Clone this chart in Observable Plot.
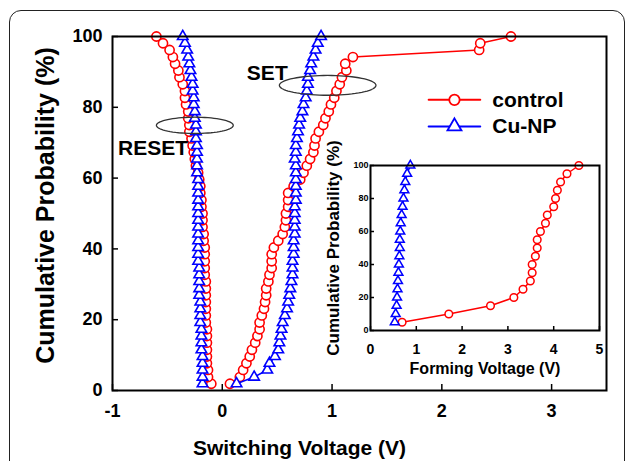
<!DOCTYPE html>
<html>
<head>
<meta charset="utf-8">
<script src="https://cdn.jsdelivr.net/npm/d3@7"></script>
<script src="https://cdn.jsdelivr.net/npm/@observablehq/plot@0.6"></script>
<style>
  html, body { margin: 0; padding: 0; background: white; }
  #wrap { position: relative; width: 629px; height: 461px; overflow: hidden; background: white; }
  #border { position: absolute; left: 9px; top: 10px; width: 616px; height: 480px; border: 1.5px solid #222; border-radius: 12px; box-sizing: border-box; }
  #main { position: absolute; left: 0; top: 0; }
  #inset { position: absolute; left: 320px; top: 150px; }
</style>
</head>
<body>
<div id="wrap">
  <div id="border"></div>
  <div id="main"></div>
  <div id="inset"></div>
</div>
<script>
// ---------- Data ----------
// Cumulative probability levels (%) shared by the switching-voltage series
const switchProb = [1.9, 3.8, 5.8, 7.7, 9.6, 11.5, 13.5, 15.4, 17.3, 19.2,
  21.2, 23.1, 25.0, 26.9, 28.8, 30.8, 32.7, 34.6, 36.5, 38.5,
  40.4, 42.3, 44.2, 46.2, 48.1, 50.0, 51.9, 53.8, 55.8, 57.7,
  59.6, 61.5, 63.5, 65.4, 67.3, 69.2, 71.2, 73.1, 75.0, 76.9,
  78.8, 80.8, 82.7, 84.6, 86.5, 88.5, 90.4, 92.3, 94.2, 96.2, 98.1, 100];

const controlReset = [-0.10, -0.13, -0.13, -0.14, -0.14, -0.14, -0.14, -0.14, -0.14, -0.15,
  -0.15, -0.15, -0.15, -0.15, -0.15, -0.15, -0.16, -0.16, -0.16, -0.16,
  -0.16, -0.17, -0.17, -0.18, -0.18, -0.18, -0.19, -0.19, -0.20, -0.20,
  -0.21, -0.22, -0.24, -0.25, -0.26, -0.27, -0.28, -0.30, -0.30, -0.31,
  -0.31, -0.33, -0.34, -0.34, -0.36, -0.39, -0.40, -0.43, -0.45, -0.48, -0.54, -0.60];

const controlSet = [0.07, 0.16, 0.19, 0.22, 0.25, 0.27, 0.30, 0.32, 0.34, 0.34,
  0.36, 0.38, 0.39, 0.40, 0.40, 0.42, 0.43, 0.45, 0.45, 0.45,
  0.47, 0.51, 0.55, 0.57, 0.58, 0.58, 0.60, 0.60, 0.60, 0.65,
  0.71, 0.74, 0.77, 0.80, 0.83, 0.84, 0.85, 0.88, 0.92, 0.94,
  0.97, 0.99, 1.02, 1.04, 1.07, 1.09, 1.13, 1.12, 1.19, 2.34, 2.35, 2.63];

const cuReset = [-0.18, -0.18, -0.18, -0.18, -0.18, -0.19, -0.19, -0.19, -0.19, -0.20,
  -0.20, -0.20, -0.20, -0.21, -0.21, -0.21, -0.21, -0.21, -0.22, -0.22,
  -0.22, -0.22, -0.22, -0.22, -0.22, -0.22, -0.22, -0.22, -0.22, -0.22,
  -0.22, -0.23, -0.23, -0.23, -0.23, -0.23, -0.24, -0.24, -0.24, -0.25,
  -0.25, -0.26, -0.26, -0.27, -0.27, -0.28, -0.29, -0.30, -0.31, -0.32, -0.34, -0.36];

const cuSet = [0.13, 0.29, 0.41, 0.43, 0.48, 0.51, 0.52, 0.53, 0.54, 0.55,
  0.57, 0.59, 0.60, 0.61, 0.62, 0.63, 0.64, 0.64, 0.64, 0.65,
  0.65, 0.65, 0.66, 0.66, 0.66, 0.66, 0.66, 0.67, 0.67, 0.67,
  0.67, 0.67, 0.67, 0.66, 0.67, 0.67, 0.68, 0.69, 0.70, 0.71,
  0.73, 0.74, 0.76, 0.77, 0.78, 0.78, 0.80, 0.81, 0.83, 0.85, 0.87, 0.90];

// Inset: forming voltage
const formProb = [5, 10, 15, 20, 25, 30, 35, 40, 45, 50, 55, 60, 65, 70, 75, 80, 85, 90, 95, 100];
const controlForming = [0.69, 1.71, 2.62, 3.13, 3.33, 3.49, 3.53, 3.53, 3.60, 3.64,
  3.64, 3.71, 3.82, 3.86, 4.00, 4.04, 4.08, 4.15, 4.29, 4.55];
const cuForming = [0.53, 0.55, 0.57, 0.58, 0.59, 0.60, 0.61, 0.62, 0.63, 0.64,
  0.64, 0.65, 0.66, 0.68, 0.70, 0.72, 0.74, 0.76, 0.80, 0.87];

// Tick labels
const mainXTicks = [-1, 0, 1, 2, 3];
const mainYTicks = [0, 20, 40, 60, 80, 100];
const insetXTicks = [0, 1, 2, 3, 4, 5];
const insetYTicks = [0, 20, 40, 60, 80, 100];

// Series & annotations
const seriesNames = ["control", "Cu-NP"];
const seriesColors = ["#ff0000", "#0000ff"];
const seriesSymbols = ["circle", "triangle"];
const annotationTexts = [{label: "SET", x: 0.41, y: 89.6}, {label: "RESET", x: -0.63, y: 68.4}];
const annotationEllipses = [{cx: 0.96, cy: 86.2, rx: 0.44, ry: 2.8}, {cx: -0.25, cy: 74.9, rx: 0.35, ry: 2.3}];

// ---------- Build tables ----------
const zip = (xs, ps) => xs.map((x, i) => ({x, y: ps[i]}));
const cReset = zip(controlReset, switchProb), cSet = zip(controlSet, switchProb);
const nReset = zip(cuReset, switchProb), nSet = zip(cuSet, switchProb);
const cForm = zip(controlForming, formProb), nForm = zip(cuForming, formProb);

const ellipsePts = annotationEllipses.map((e, k) => d3.range(0, 73).map(i => {
  const t = i / 72 * 2 * Math.PI;
  return {x: e.cx + e.rx * Math.cos(t), y: e.cy + e.ry * Math.sin(t), k};
})).flat();

const legendRows = seriesNames.map((name, i) => ({name, color: seriesColors[i], symbol: seriesSymbols[i], y: [82.1, 74.6][i]}));
const legendLines = legendRows.flatMap(r => [{x: 1.88, y: r.y, name: r.name}, {x: 2.35, y: r.y, name: r.name}]);

const font = "'Liberation Sans', Arial, Helvetica, sans-serif";

const main = Plot.plot({
  width: 629, height: 461,
  marginLeft: 112, marginTop: 36, marginRight: 23, marginBottom: 71,
  x: {domain: [-1, 3.5]},
  y: {domain: [0, 100]},
  style: {fontFamily: font, fontWeight: "bold", background: "transparent", color: "black", overflow: "visible"},
  marks: [
    Plot.axisX({ticks: mainXTicks, tickSize: -6, tickPadding: 20, tickFormat: d => String(d), label: null, fontSize: 18, strokeWidth: 1.5}),
    Plot.axisY({ticks: mainYTicks, tickSize: -6, tickPadding: 16, tickFormat: d => String(d), label: null, fontSize: 18, strokeWidth: 1.5}),
    Plot.line(cReset, {x: "x", y: "y", stroke: seriesColors[0], strokeWidth: 1.5}),
    Plot.line(cSet, {x: "x", y: "y", stroke: seriesColors[0], strokeWidth: 1.5}),
    Plot.dot(cReset, {x: "x", y: "y", r: 4.6, stroke: seriesColors[0], fill: "white", strokeWidth: 1.6}),
    Plot.dot(cSet, {x: "x", y: "y", r: 4.6, stroke: seriesColors[0], fill: "white", strokeWidth: 1.6}),
    Plot.line(nReset, {x: "x", y: "y", stroke: seriesColors[1], strokeWidth: 1.5}),
    Plot.line(nSet, {x: "x", y: "y", stroke: seriesColors[1], strokeWidth: 1.5}),
    Plot.dot(nReset, {x: "x", y: "y", r: 3.9, symbol: "triangle", stroke: seriesColors[1], fill: "white", strokeWidth: 1.6}),
    Plot.dot(nSet, {x: "x", y: "y", r: 3.9, symbol: "triangle", stroke: seriesColors[1], fill: "white", strokeWidth: 1.6}),
    Plot.line(ellipsePts, {x: "x", y: "y", z: "k", stroke: "#333", strokeWidth: 1.3}),
    Plot.text(annotationTexts, {x: "x", y: "y", text: "label", fontSize: 21, fontWeight: "bold", fill: "black"}),
    // legend
    Plot.line(legendLines, {x: "x", y: "y", z: "name", stroke: d => d.name, strokeWidth: 2}),
    Plot.dot(legendRows, {x: 2.115, y: "y", r: 5.2, symbol: "symbol", stroke: "color", fill: "white", strokeWidth: 1.8}),
    Plot.text(legendRows, {x: 2.46, y: "y", text: "name", textAnchor: "start", fontSize: 21, fontWeight: "bold", fill: "black"}),
    Plot.frame({stroke: "black", strokeWidth: 2}),
    Plot.text(["Switching Voltage (V)"], {frameAnchor: "bottom", textAnchor: "middle", lineAnchor: "middle", dx: -60, dy: 58, fontSize: 21, fontWeight: "bold", fill: "black"}),
    Plot.text(["Cumulative Probability (%)"], {frameAnchor: "left", textAnchor: "middle", lineAnchor: "middle", dx: -67, dy: -8, rotate: -90, fontSize: 25, fontWeight: "bold", fill: "black"})
  ],
  color: {domain: seriesNames, range: seriesColors}
});
document.getElementById("main").append(main);

const inset = Plot.plot({
  width: 290, height: 230,
  marginLeft: 50, marginTop: 15, marginRight: 11, marginBottom: 50,
  x: {domain: [0, 5]},
  y: {domain: [0, 100]},
  style: {fontFamily: font, fontWeight: "bold", background: "transparent", color: "black", overflow: "visible"},
  marks: [
    Plot.frame({fill: "white"}),
    Plot.axisX({ticks: insetXTicks, tickSize: -4, tickPadding: 18, tickFormat: d => String(d), label: null, fontSize: 14, strokeWidth: 1.5}),
    Plot.axisY({ticks: insetYTicks, tickSize: -4, tickPadding: 6, tickFormat: d => String(d), label: null, fontSize: 9, strokeWidth: 1.5}),
    Plot.line(cForm, {x: "x", y: "y", stroke: seriesColors[0], strokeWidth: 1.5}),
    Plot.dot(cForm, {x: "x", y: "y", r: 3.8, stroke: seriesColors[0], fill: "white", strokeWidth: 1.5}),
    Plot.line(nForm, {x: "x", y: "y", stroke: seriesColors[1], strokeWidth: 1.5}),
    Plot.dot(nForm, {x: "x", y: "y", r: 3.3, symbol: "triangle", stroke: seriesColors[1], fill: "white", strokeWidth: 1.5}),
    Plot.frame({stroke: "black", strokeWidth: 2}),
    Plot.text(["Forming Voltage (V)"], {frameAnchor: "bottom", textAnchor: "middle", lineAnchor: "middle", dy: 38, fontSize: 16, fontWeight: "bold", fill: "black"}),
    Plot.text(["Cumulative Probability (%)"], {frameAnchor: "left", textAnchor: "middle", lineAnchor: "middle", dx: -37, rotate: -90, fontSize: 17, fontWeight: "bold", fill: "black"})
  ]
});
document.getElementById("inset").append(inset);
</script>
</body>
</html>
